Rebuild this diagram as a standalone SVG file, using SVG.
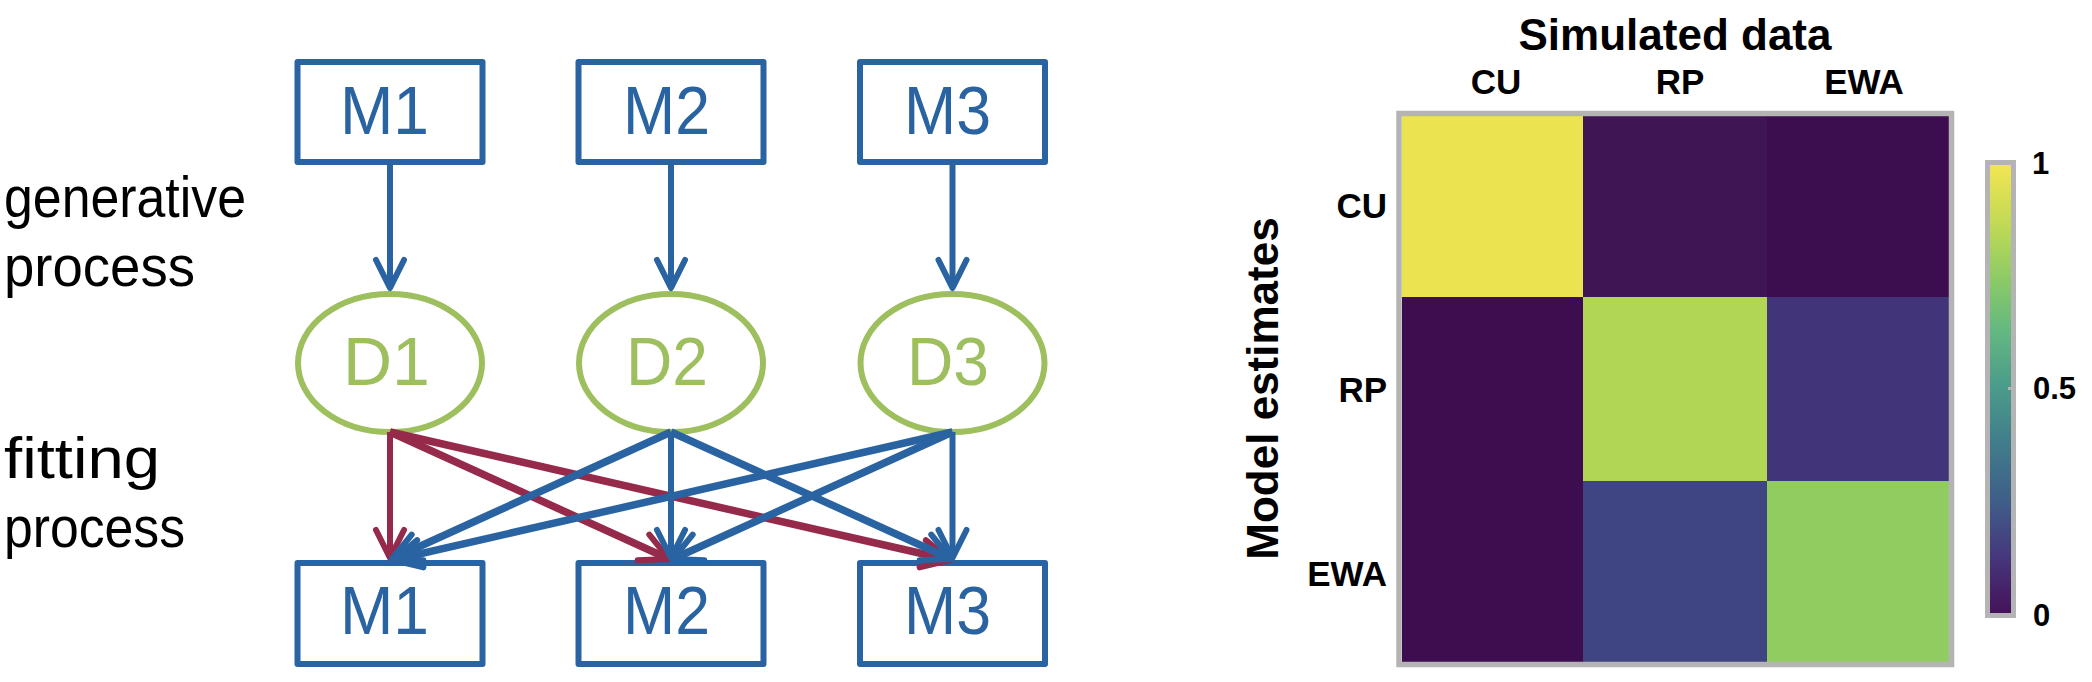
<svg xmlns="http://www.w3.org/2000/svg" width="2092" height="682" viewBox="0 0 2092 682">
<style>
.box{fill:#fff;stroke:#2A63A1;stroke-width:6;stroke-linejoin:round}
.ell{fill:#fff;stroke:#9DBF5E;stroke-width:6}
.mt{font-family:"Liberation Sans",Arial,sans-serif;font-size:68px;fill:#2A63A1}
.dt{font-family:"Liberation Sans",Arial,sans-serif;font-size:68px;fill:#9DBF5E}
.side{font-family:"Liberation Sans",Arial,sans-serif;font-size:58px;fill:#000}
.hb{font-family:"Liberation Sans",Arial,sans-serif;font-weight:bold;fill:#000}
.b{stroke:#2A63A1;fill:none;stroke-width:6;marker-end:url(#ab)}
.bd{stroke:#2A63A1;fill:none;stroke-width:7.5;marker-end:url(#ab)}
.r{stroke:#962A4A;fill:none;stroke-width:6;marker-end:url(#ar)}
.rd{stroke:#962A4A;fill:none;stroke-width:7.5;marker-end:url(#ar)}
</style>
<defs>
<marker id="ab" markerUnits="userSpaceOnUse" viewBox="-34 -20 40 40" markerWidth="40" markerHeight="40" refX="0" refY="0" orient="auto">
<path d="M-28,-14 L0,0 L-28,14" fill="none" stroke="#2A63A1" stroke-width="6" stroke-linecap="round" stroke-linejoin="round"/>
</marker>
<marker id="ar" markerUnits="userSpaceOnUse" viewBox="-34 -20 40 40" markerWidth="40" markerHeight="40" refX="0" refY="0" orient="auto">
<path d="M-28,-14 L0,0 L-28,14" fill="none" stroke="#962A4A" stroke-width="6" stroke-linecap="round" stroke-linejoin="round"/>
</marker>
<linearGradient id="vir" x1="0" y1="0" x2="0" y2="1">
<stop offset="0" stop-color="#F2E552"/>
<stop offset="0.125" stop-color="#C4DA55"/>
<stop offset="0.25" stop-color="#8ECB66"/>
<stop offset="0.375" stop-color="#62B782"/>
<stop offset="0.5" stop-color="#4A9A8A"/>
<stop offset="0.625" stop-color="#407C8B"/>
<stop offset="0.75" stop-color="#3F5E89"/>
<stop offset="0.875" stop-color="#46377C"/>
<stop offset="1" stop-color="#45125A"/>
</linearGradient>
</defs>

<g id="labels-left">
<text class="side" x="4" y="217" textLength="242" lengthAdjust="spacingAndGlyphs">generative</text>
<text class="side" x="4" y="286" textLength="191" lengthAdjust="spacingAndGlyphs">process</text>
<text class="side" x="4" y="478" textLength="156" lengthAdjust="spacingAndGlyphs">fitting</text>
<text class="side" x="4" y="547" textLength="181" lengthAdjust="spacingAndGlyphs">process</text>
</g>

<g id="gen-M1"><rect class="box" x="297.5" y="62" width="185" height="100"/><text class="mt" x="340" y="134" textLength="89" lengthAdjust="spacingAndGlyphs">M1</text></g>
<g id="gen-M2"><rect class="box" x="578.5" y="62" width="185" height="100"/><text class="mt" x="623" y="134" textLength="87" lengthAdjust="spacingAndGlyphs">M2</text></g>
<g id="gen-M3"><rect class="box" x="860" y="62" width="185" height="100"/><text class="mt" x="904" y="134" textLength="87" lengthAdjust="spacingAndGlyphs">M3</text></g>

<g id="D1"><ellipse class="ell" cx="390" cy="363" rx="92" ry="69"/><text class="dt" x="343" y="385">D1</text></g>
<g id="D2"><ellipse class="ell" cx="671" cy="363" rx="92" ry="69"/><text class="dt" x="626" y="385" textLength="82" lengthAdjust="spacingAndGlyphs">D2</text></g>
<g id="D3"><ellipse class="ell" cx="952.5" cy="363" rx="92" ry="69"/><text class="dt" x="907" y="385" textLength="82" lengthAdjust="spacingAndGlyphs">D3</text></g>

<g id="fit-M1"><rect class="box" x="297.5" y="563" width="185" height="101"/><text class="mt" x="340" y="634" textLength="89" lengthAdjust="spacingAndGlyphs">M1</text></g>
<g id="fit-M2"><rect class="box" x="578.5" y="563" width="185" height="101"/><text class="mt" x="623" y="634" textLength="87" lengthAdjust="spacingAndGlyphs">M2</text></g>
<g id="fit-M3"><rect class="box" x="860" y="563" width="185" height="101"/><text class="mt" x="904" y="634" textLength="87" lengthAdjust="spacingAndGlyphs">M3</text></g>

<g id="connectors">
<line class="b" x1="390" y1="165" x2="390" y2="288"/>
<line class="b" x1="671" y1="165" x2="671" y2="288"/>
<line class="b" x1="952.5" y1="165" x2="952.5" y2="288"/>
<line class="r" x1="390" y1="432" x2="390" y2="558"/>
<line class="rd" x1="390" y1="432" x2="669" y2="559"/>
<line class="rd" x1="390" y1="432" x2="950" y2="560"/>
<line class="bd" x1="671" y1="432" x2="392" y2="559"/>
<line class="b" x1="671" y1="432" x2="671" y2="558"/>
<line class="bd" x1="671" y1="432" x2="951" y2="559"/>
<line class="bd" x1="952.5" y1="432" x2="393" y2="560"/>
<line class="bd" x1="952.5" y1="432" x2="673" y2="559"/>
<line class="b" x1="952.5" y1="432" x2="952.5" y2="558"/>
</g>

<g id="heatmap">
<rect x="1402" y="116" width="181" height="181" fill="#ECE350"/>
<rect x="1583" y="116" width="184" height="181" fill="#3F1554"/>
<rect x="1767" y="116" width="182" height="181" fill="#3C0E50"/>
<rect x="1402" y="297" width="181" height="184" fill="#3D0D50"/>
<rect x="1583" y="297" width="184" height="184" fill="#B1D655"/>
<rect x="1767" y="297" width="182" height="184" fill="#423479"/>
<rect x="1402" y="481" width="181" height="181" fill="#3D0D50"/>
<rect x="1583" y="481" width="184" height="181" fill="#3E4580"/>
<rect x="1767" y="481" width="182" height="181" fill="#91CC60"/>
<rect x="1399" y="113.5" width="552.5" height="551" fill="none" stroke="#B4B4B4" stroke-width="5.5"/>
<text class="hb" x="1675" y="50" font-size="44" text-anchor="middle">Simulated data</text>
<text class="hb" x="1496" y="94" font-size="35" text-anchor="middle">CU</text>
<text class="hb" x="1680" y="94" font-size="35" text-anchor="middle">RP</text>
<text class="hb" x="1864" y="94" font-size="35" text-anchor="middle">EWA</text>
<text class="hb" x="1387" y="218" font-size="35" text-anchor="end">CU</text>
<text class="hb" x="1387" y="402" font-size="35" text-anchor="end">RP</text>
<text class="hb" x="1387" y="586" font-size="35" text-anchor="end">EWA</text>
<text class="hb" font-size="44" text-anchor="middle" transform="translate(1278,388.5) rotate(-90)">Model estimates</text>
</g>

<g id="colorbar">
<rect x="1990" y="165" width="21" height="448" fill="url(#vir)"/>
<rect x="1987.5" y="162.5" width="26" height="453" fill="none" stroke="#B4B4B4" stroke-width="5"/>
<line x1="2008" y1="388.5" x2="2013" y2="388.5" stroke="#B4B4B4" stroke-width="3"/>
<text class="hb" x="2032" y="174" font-size="31">1</text>
<text class="hb" x="2033" y="399" font-size="31">0.5</text>
<text class="hb" x="2033" y="626" font-size="31">0</text>
</g>
</svg>
